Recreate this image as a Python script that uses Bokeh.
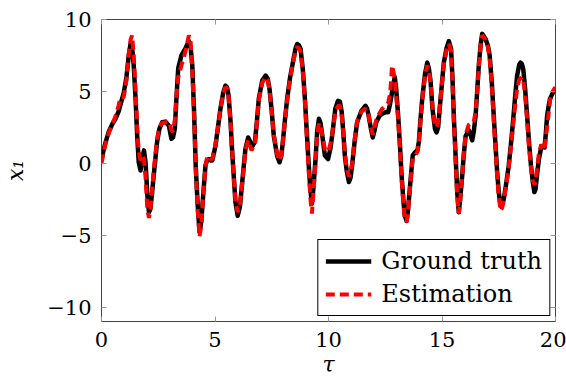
from bokeh.plotting import figure
from bokeh.models import FixedTicker, LinearAxis, CustomJSTickFormatter, Range1d, Legend, LegendItem
from bokeh.embed import file_html
from bokeh.resources import INLINE

tau = [0.0, 0.15, 0.32, 0.5, 0.62, 0.75, 0.84, 0.98, 1.1, 1.2, 1.28, 1.35, 1.42, 1.5, 1.57,
       1.64, 1.72, 1.8, 1.87, 1.94, 2.02, 2.09, 2.15, 2.22, 2.3, 2.45, 2.55, 2.67, 2.82, 2.97,
       3.08, 3.15, 3.23, 3.3, 3.38, 3.52, 3.7, 3.85, 3.93, 4.0, 4.08, 4.15, 4.24, 4.32, 4.4,
       4.48, 4.58, 4.65, 4.73, 4.8, 4.88, 5.02, 5.14, 5.24, 5.36, 5.46, 5.53, 5.6, 5.68, 5.75,
       5.83, 5.9, 6.0, 6.1, 6.2, 6.34, 6.46, 6.55, 6.61, 6.76, 6.85, 6.93, 7.08, 7.23, 7.32,
       7.4, 7.5, 7.59, 7.74, 7.84, 7.92, 7.99, 8.08, 8.18, 8.3, 8.43, 8.55, 8.62, 8.7, 8.77,
       8.87, 8.96, 9.05, 9.13, 9.2, 9.27, 9.33, 9.43, 9.5, 9.58, 9.65, 9.72, 9.84, 9.98, 10.08,
       10.16, 10.3, 10.42, 10.5, 10.58, 10.65, 10.72, 10.8, 10.9, 10.97, 11.04, 11.15, 11.26, 11.45, 11.63,
       11.7, 11.77, 11.87, 11.95, 12.03, 12.1, 12.25, 12.37, 12.51, 12.63, 12.72, 12.8, 12.92, 12.98, 13.07,
       13.15, 13.22, 13.3, 13.36, 13.44, 13.5, 13.58, 13.71, 13.83, 13.92, 13.98, 14.05, 14.13, 14.25, 14.35,
       14.42, 14.5, 14.58, 14.69, 14.76, 14.83, 14.9, 15.0, 15.08, 15.2, 15.3, 15.4, 15.46, 15.52, 15.6,
       15.67, 15.74, 15.8, 15.89, 15.96, 16.04, 16.18, 16.26, 16.33, 16.4, 16.48, 16.55, 16.62, 16.7, 16.77,
       16.92, 17.02, 17.1, 17.2, 17.28, 17.36, 17.43, 17.5, 17.58, 17.65, 17.72, 17.83, 17.94, 18.04, 18.14,
       18.22, 18.31, 18.4, 18.46, 18.52, 18.58, 18.66, 18.75, 18.83, 18.92, 19.0, 19.07, 19.12, 19.2, 19.27,
       19.37, 19.45, 19.52, 19.58, 19.63, 19.7, 19.76, 19.88, 20.0]

ground_truth = [0.3, 1.3, 2.2, 2.8, 3.1, 3.6, 4.1, 4.9, 6.0, 7.5, 8.3, 8.0, 6.8, 4.5, 2.0,
                0.07, -0.5, 0.4, 0.9, 0.07, -2.2, -3.4, -3.2, -2.2, -0.85, 1.5, 2.4, 2.85, 2.9, 2.6,
                1.7, 1.8, 2.4, 4.5, 6.6, 7.5, 8.0, 8.5, 8.0, 6.8, 3.5, -0.15, -3.0, -4.8, -4.0,
                -2.2, -0.15, 0.2, 0.3, 0.2, 0.2, 1.2, 2.6, 3.8, 4.9, 5.4, 5.3, 4.7, 3.0, 1.0,
                -1.0, -2.7, -3.65, -3.0, -1.3, 1.0, 1.8, 1.5, 1.1, 1.5, 3.0, 4.5, 5.75, 6.1, 5.9,
                5.2, 3.6, 1.9, 0.5, 0.07, 0.5, 1.5, 3.0, 4.5, 5.9, 7.0, 8.0, 8.3, 8.2, 7.95,
                6.5, 4.5, 2.0, -0.15, -1.8, -2.8, -1.8, 0.3, 2.2, 3.1, 2.8, 2.0, 0.55, 0.3, 1.0,
                1.9, 3.8, 4.35, 4.3, 3.6, 2.2, 0.55, -0.5, -1.3, -1.0, -0.15, 1.5, 2.85, 3.65, 4.0,
                3.8, 3.3, 2.4, 1.8, 2.3, 2.85, 3.3, 3.45, 3.55, 3.55, 4.2, 4.95, 6.0, 5.2, 3.3,
                1.2, -0.85, -2.6, -3.65, -4.0, -3.3, -1.8, 0.55, 0.8, 0.9, 1.5, 3.0, 4.5, 6.2, 7.0,
                6.6, 5.65, 3.8, 2.4, 2.15, 2.5, 3.8, 5.6, 7.0, 8.0, 8.5, 7.95, 6.0, 3.3, 0.5,
                -2.0, -3.4, -2.5, -0.85, 0.6, 1.9, 2.3, 2.0, 1.6, 2.2, 3.3, 5.0, 6.8, 8.2, 9.0,
                8.65, 8.2, 7.5, 5.5, 3.3, 1.2, -0.6, -2.0, -2.95, -2.9, -2.5, -1.4, -0.15, 1.4, 3.1,
                4.6, 6.1, 6.85, 7.0, 6.9, 6.55, 5.2, 3.3, 1.5, -0.15, -1.3, -2.0, -1.8, -0.6, 0.3,
                1.1, 1.15, 1.1, 2.2, 3.3, 4.0, 4.5, 4.9, 5.1]

estimation = [0.0, 1.2, 2.1, 2.8, 3.3, 4.0, 4.6, 4.6, 5.8, 7.6, 8.6, 8.9, 7.5, 5.0, 2.5,
              0.8, 0.2, 0.5, 0.3, -1.0, -3.2, -3.8, -3.3, -2.0, -0.5, 1.7, 2.5, 2.8, 2.85, 2.9,
              2.3, 2.2, 3.0, 4.6, 6.0, 6.8, 7.8, 8.9, 8.4, 6.5, 3.2, -0.3, -3.3, -5.1, -4.2,
              -2.3, -0.2, 0.4, 0.5, 0.3, 0.3, 1.3, 2.6, 3.8, 4.8, 5.3, 5.2, 4.6, 3.0, 1.0,
              -1.0, -2.6, -3.4, -2.9, -1.3, 0.9, 1.6, 1.2, 0.9, 1.4, 2.9, 4.4, 5.6, 6.0, 5.8,
              5.1, 3.6, 2.0, 0.6, 0.2, 0.6, 1.5, 3.0, 4.4, 5.8, 6.9, 7.9, 8.1, 8.0, 7.8,
              6.4, 4.4, 1.8, -0.6, -2.4, -3.5, -2.2, 0.1, 2.0, 2.8, 2.6, 2.0, 1.0, 0.8, 1.3,
              2.0, 3.6, 4.0, 4.0, 3.4, 2.2, 0.7, -0.3, -0.9, -0.7, 0.0, 1.6, 2.9, 3.6, 3.8,
              3.7, 3.3, 2.5, 2.0, 2.5, 3.0, 3.5, 3.8, 4.0, 4.2, 4.9, 6.8, 5.9, 4.8, 3.0,
              1.0, -1.0, -2.8, -3.8, -4.1, -3.4, -1.9, 0.4, 0.6, 0.8, 1.4, 2.9, 4.4, 6.1, 6.8,
              6.5, 5.6, 3.9, 2.6, 2.5, 2.8, 3.9, 5.6, 6.9, 7.9, 8.3, 7.8, 5.8, 3.0, 0.2,
              -2.3, -3.5, -2.6, -0.9, 0.7, 2.0, 2.7, 2.8, 2.8, 2.9, 3.6, 5.0, 6.7, 8.2, 8.9,
              8.6, 8.1, 7.3, 5.2, 3.0, 0.9, -0.9, -2.3, -3.3, -3.1, -2.6, -1.5, -0.3, 1.2, 2.8,
              4.0, 5.2, 5.8, 5.9, 6.0, 5.8, 4.8, 3.0, 1.2, -0.3, -1.2, -1.5, -1.3, -0.2, 0.7,
              1.3, 1.1, 0.9, 2.0, 2.5, 3.5, 4.4, 5.0, 5.3]

x_ticks = [0, 5, 10, 15, 20]
y_ticks = [-10, -5, 0, 5, 10]

FONT = "DejaVu Serif"

p = figure(width=566, height=379, output_backend="svg", toolbar_location=None,
           x_range=Range1d(0, 20), y_range=Range1d(-11, 10),
           min_border_left=101, min_border_right=11, min_border_top=19, min_border_bottom=58)
p.grid.visible = False
p.outline_line_color = "#444444"
p.outline_line_width = 1
p.background_fill_color = "white"
p.border_fill_color = "white"

fmt = CustomJSTickFormatter(code="return tick < 0 ? '\u2212' + Math.abs(tick).toFixed(0) : tick.toFixed(0);")
blank = CustomJSTickFormatter(code="return '';")

for ax, ticks in ((p.xaxis[0], x_ticks), (p.yaxis[0], y_ticks)):
    ax.ticker = FixedTicker(ticks=ticks)
    ax.formatter = fmt
    ax.axis_line_color = None
    ax.major_tick_in = 5
    ax.major_tick_out = 0
    ax.major_tick_line_color = "#999999"
    ax.minor_tick_line_color = None
    ax.major_label_text_font = FONT
    ax.major_label_text_font_size = "21px"
    ax.major_label_text_color = "black"
    ax.axis_label_text_font = FONT
    ax.axis_label_text_font_size = "22px"
    ax.axis_label_text_font_style = "italic"
    ax.axis_label_text_color = "black"

p.xaxis[0].axis_label = "τ"
p.xaxis[0].major_label_standoff = 10
p.xaxis[0].axis_label_standoff = 2
p.yaxis[0].axis_label = "x₁"
p.yaxis[0].major_label_standoff = 10
p.yaxis[0].axis_label_standoff = 16

top_ax = LinearAxis(ticker=FixedTicker(ticks=x_ticks), formatter=blank,
                    major_label_text_font_size="1px",
                    axis_line_color=None, major_tick_in=5, major_tick_out=0,
                    major_tick_line_color="#999999", minor_tick_line_color=None,
                    major_label_standoff=0)
right_ax = LinearAxis(ticker=FixedTicker(ticks=y_ticks), formatter=blank,
                      major_label_text_font_size="1px",
                      axis_line_color=None, major_tick_in=5, major_tick_out=0,
                      major_tick_line_color="#999999", minor_tick_line_color=None,
                      major_label_standoff=0)
p.add_layout(top_ax, "above")
p.add_layout(right_ax, "right")

r_truth = p.line(tau, ground_truth, line_color="black", line_width=4.5, line_join="round")
r_est = p.line(tau, estimation, line_color="#ff0000", line_width=4, line_dash="9 5")

legend = Legend(items=[LegendItem(label="Ground truth", renderers=[r_truth]),
                       LegendItem(label="Estimation", renderers=[r_est])],
                location="bottom_right")
legend.margin = 5
legend.padding = 7
legend.spacing = 5
legend.glyph_width = 46
legend.glyph_height = 28
legend.label_height = 28
legend.label_standoff = 10
legend.label_text_font = FONT
legend.label_text_font_size = "24px"
legend.label_text_color = "black"
legend.border_line_color = "black"
legend.border_line_width = 1
legend.border_line_alpha = 1
legend.background_fill_color = "white"
legend.background_fill_alpha = 1
p.add_layout(legend, "center")

open("out.html", "w").write(file_html(p, INLINE))
